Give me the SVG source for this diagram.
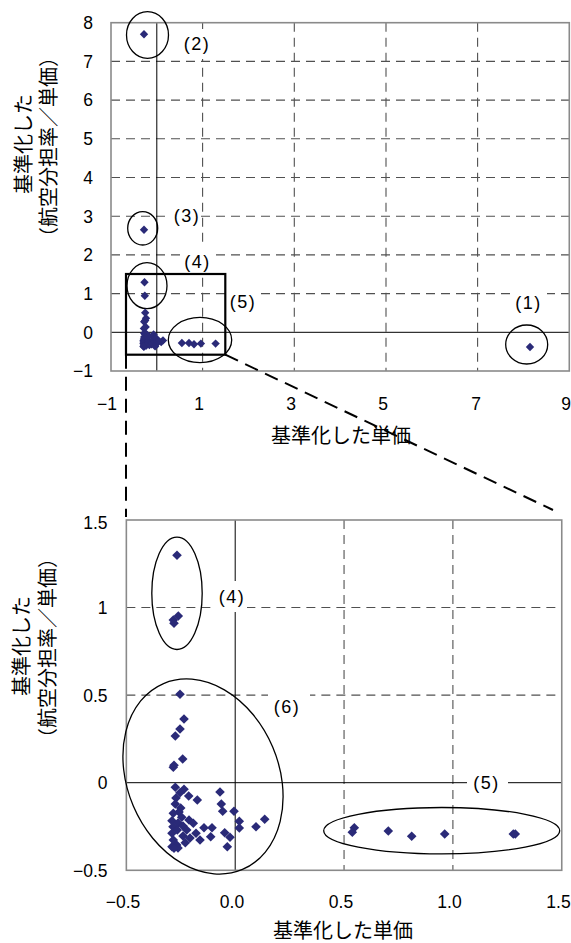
<svg xmlns="http://www.w3.org/2000/svg" xmlns:xlink="http://www.w3.org/1999/xlink" width="571" height="943" viewBox="0 0 571 943">
<style>
.bg{fill:#fff}
.frame{fill:none;stroke:#8a8a8a;stroke-width:1.6}
.grid{fill:none;stroke:#505050;stroke-width:1.1;stroke-dasharray:9,6}
.axis{fill:none;stroke:#000;stroke-width:1}
.ring{fill:none;stroke:#000;stroke-width:1.3}
.box{fill:none;stroke:#000;stroke-width:2.2}
.zoomline{fill:none;stroke:#000;stroke-width:2;stroke-dasharray:14,8}
.num{font-family:"Liberation Sans",Arial,sans-serif;font-size:17.5px;fill:#000}
.lab{font-family:"Liberation Sans",Arial,sans-serif;font-size:18px;letter-spacing:1.5px;fill:#000;text-anchor:middle}
.ttl{font-family:"Noto Sans CJK JP","Noto Sans CJK SC",sans-serif;font-size:20px;fill:#000;text-anchor:middle}
.lbg{fill:#fff;stroke:none}
.pt{fill:#2a2a78}
</style>
<defs>
<path id="dt" d="M0,-4.2 L4.2,0 L0,4.2 L-4.2,0Z"/>
<path id="db" d="M0,-4.8 L4.8,0 L0,4.8 L-4.8,0Z"/>
</defs>
<rect class="bg" x="0" y="0" width="571" height="943"/>

<g id="top-chart">
  <g id="top-grid">
    <line class="grid" x1="111" y1="293.6" x2="569.3" y2="293.6"/>
    <line class="grid" x1="111" y1="254.9" x2="569.3" y2="254.9"/>
    <line class="grid" x1="111" y1="216.2" x2="569.3" y2="216.2"/>
    <line class="grid" x1="111" y1="177.5" x2="569.3" y2="177.5"/>
    <line class="grid" x1="111" y1="138.8" x2="569.3" y2="138.8"/>
    <line class="grid" x1="111" y1="100.1" x2="569.3" y2="100.1"/>
    <line class="grid" x1="111" y1="61.4" x2="569.3" y2="61.4"/>
    <line class="grid" x1="202.6" y1="22.7" x2="202.6" y2="371"/>
    <line class="grid" x1="294.3" y1="22.7" x2="294.3" y2="371"/>
    <line class="grid" x1="386" y1="22.7" x2="386" y2="371"/>
    <line class="grid" x1="477.6" y1="22.7" x2="477.6" y2="371"/>
    <line class="axis" x1="156.8" y1="22.7" x2="156.8" y2="371"/>
    <line class="axis" x1="111" y1="332.3" x2="569.3" y2="332.3"/>
    <rect class="frame" x="111" y="22.7" width="458.3" height="348.3"/>
  </g>
  <g id="top-label-bg">
    <rect class="lbg" x="182" y="29" width="29" height="30"/>
    <rect class="lbg" x="171" y="202" width="30" height="28"/>
    <rect class="lbg" x="182" y="247" width="29" height="25"/>
    <rect class="lbg" x="228" y="288" width="29" height="28"/>
    <rect class="lbg" x="510" y="288" width="37" height="28"/>
  </g>
  <g id="top-ticks">
    <text class="num" text-anchor="end" x="93" y="29">8</text>
    <text class="num" text-anchor="end" x="93" y="67.7">7</text>
    <text class="num" text-anchor="end" x="93" y="106.4">6</text>
    <text class="num" text-anchor="end" x="93" y="145.1">5</text>
    <text class="num" text-anchor="end" x="93" y="183.8">4</text>
    <text class="num" text-anchor="end" x="93" y="222.5">3</text>
    <text class="num" text-anchor="end" x="93" y="261.2">2</text>
    <text class="num" text-anchor="end" x="93" y="299.9">1</text>
    <text class="num" text-anchor="end" x="93" y="338.6">0</text>
    <text class="num" text-anchor="end" x="93" y="377.3">−1</text>
    <text class="num" text-anchor="middle" x="107" y="410">−1</text>
    <text class="num" text-anchor="middle" x="199" y="410">1</text>
    <text class="num" text-anchor="middle" x="291" y="410">3</text>
    <text class="num" text-anchor="middle" x="383" y="410">5</text>
    <text class="num" text-anchor="middle" x="476" y="410">7</text>
    <text class="num" text-anchor="middle" x="566" y="410">9</text>
  </g>
  <text class="ttl" x="341" y="443">基準化した単価</text>
  <text class="ttl" dominant-baseline="central" transform="translate(22,144) rotate(-90)">基準化した</text>
  <text class="ttl" dominant-baseline="central" transform="translate(47,147) rotate(-90)">（航空分担率／単価）</text>
  <g id="top-groups">
    <ellipse class="ring" cx="147.5" cy="35" rx="21" ry="23.3"/>
    <ellipse class="ring" cx="142.7" cy="228.3" rx="15" ry="16.7"/>
    <ellipse class="ring" cx="147" cy="285.7" rx="20" ry="23"/>
    <ellipse class="ring" cx="200" cy="340" rx="31.7" ry="22.7"/>
    <ellipse class="ring" cx="526.7" cy="344.5" rx="21" ry="19.5"/>
    <rect class="box" x="126" y="274" width="99.3" height="80.7"/>
  </g>
  <g id="top-points" class="pt">
    <use href="#dt" x="144" y="34.3"/>
    <use href="#dt" x="144" y="229.7"/>
    <use href="#dt" x="144.5" y="282.3"/>
    <use href="#dt" x="144.8" y="295.8"/>
    <use href="#dt" x="530" y="347"/>
    <use href="#dt" x="145.2" y="312.8"/>
    <use href="#dt" x="146" y="318.2"/>
    <use href="#dt" x="145.2" y="320.4"/>
    <use href="#dt" x="144.2" y="321.8"/>
    <use href="#dt" x="145.7" y="326.9"/>
    <use href="#dt" x="143.9" y="328.4"/>
    <use href="#dt" x="144.2" y="333.3"/>
    <use href="#dt" x="146" y="333.7"/>
    <use href="#dt" x="145.2" y="334.5"/>
    <use href="#dt" x="147" y="335.2"/>
    <use href="#dt" x="148.8" y="336.1"/>
    <use href="#dt" x="153.6" y="334.4"/>
    <use href="#dt" x="153.9" y="337"/>
    <use href="#dt" x="154.2" y="338.6"/>
    <use href="#dt" x="156.5" y="338.6"/>
    <use href="#dt" x="144.2" y="337"/>
    <use href="#dt" x="145.3" y="337.9"/>
    <use href="#dt" x="143.9" y="339.1"/>
    <use href="#dt" x="145.5" y="339.9"/>
    <use href="#dt" x="143.5" y="340.7"/>
    <use href="#dt" x="148" y="341.3"/>
    <use href="#dt" x="157.7" y="340.8"/>
    <use href="#dt" x="163" y="340.4"/>
    <use href="#dt" x="161.2" y="342"/>
    <use href="#dt" x="157.7" y="342.3"/>
    <use href="#dt" x="150.2" y="342.2"/>
    <use href="#dt" x="151.9" y="342.2"/>
    <use href="#dt" x="143.7" y="342"/>
    <use href="#dt" x="144.6" y="342.8"/>
    <use href="#dt" x="143.5" y="343.5"/>
    <use href="#dt" x="146.7" y="342.8"/>
    <use href="#dt" x="148.7" y="343.5"/>
    <use href="#dt" x="154.6" y="343.4"/>
    <use href="#dt" x="151.6" y="344.2"/>
    <use href="#dt" x="155.7" y="344.4"/>
    <use href="#dt" x="149.4" y="345"/>
    <use href="#dt" x="143.9" y="345"/>
    <use href="#dt" x="144.6" y="346.1"/>
    <use href="#dt" x="143.5" y="346.4"/>
    <use href="#dt" x="146.3" y="345.6"/>
    <use href="#dt" x="155.1" y="346.4"/>
    <use href="#dt" x="143.9" y="346.8"/>
    <use href="#dt" x="181.9" y="343"/>
    <use href="#dt" x="189" y="343"/>
    <use href="#dt" x="194" y="344.2"/>
    <use href="#dt" x="200.9" y="343.6"/>
    <use href="#dt" x="215.6" y="343.6"/>
  </g>
  <g id="top-labels">
    <text class="lab" x="197" y="49.5">(2)</text>
    <text class="lab" x="187" y="222">(3)</text>
    <text class="lab" x="197.5" y="268">(4)</text>
    <text class="lab" x="243" y="308">(5)</text>
    <text class="lab" x="528.5" y="308.7">(1)</text>
  </g>
</g>

<g id="connectors">
  <line class="zoomline" x1="126" y1="354.7" x2="126" y2="517"/>
  <line class="zoomline" x1="225.3" y1="354.7" x2="553" y2="510"/>
</g>

<g id="bottom-chart">
  <g id="bottom-grid">
    <line class="grid" x1="126.35" y1="607.55" x2="561.75" y2="607.55"/>
    <line class="grid" x1="126.35" y1="695.1" x2="561.75" y2="695.1"/>
    <line class="grid" x1="344.05" y1="520" x2="344.05" y2="870.3"/>
    <line class="grid" x1="452.9" y1="520" x2="452.9" y2="870.3"/>
    <line class="axis" x1="235.2" y1="520" x2="235.2" y2="870.3"/>
    <line class="axis" x1="126.35" y1="782.7" x2="561.75" y2="782.7"/>
    <rect class="frame" x="126.35" y="520" width="435.4" height="350.3"/>
  </g>
  <g id="bottom-label-bg">
    <rect class="lbg" x="216" y="581" width="31" height="31"/>
    <rect class="lbg" x="268" y="692" width="42" height="28"/>
    <rect class="lbg" x="467" y="770" width="41" height="26"/>
  </g>
  <g id="bottom-ticks">
    <text class="num" text-anchor="end" x="107.5" y="529">1.5</text>
    <text class="num" text-anchor="end" x="107.5" y="614">1</text>
    <text class="num" text-anchor="end" x="107.5" y="701.5">0.5</text>
    <text class="num" text-anchor="end" x="107.5" y="789">0</text>
    <text class="num" text-anchor="end" x="107.5" y="876.5">−0.5</text>
    <text class="num" text-anchor="middle" x="123" y="908">−0.5</text>
    <text class="num" text-anchor="middle" x="232" y="908">0.0</text>
    <text class="num" text-anchor="middle" x="341" y="908">0.5</text>
    <text class="num" text-anchor="middle" x="449.5" y="908">1.0</text>
    <text class="num" text-anchor="middle" x="558.5" y="908">1.5</text>
  </g>
  <text class="ttl" x="343" y="938">基準化した単価</text>
  <text class="ttl" dominant-baseline="central" transform="translate(20,646) rotate(-90)">基準化した</text>
  <text class="ttl" dominant-baseline="central" transform="translate(46.7,648) rotate(-90)">（航空分担率／単価）</text>
  <g id="bottom-groups">
    <ellipse class="ring" cx="177" cy="593.3" rx="25.2" ry="56.2"/>
    <ellipse class="ring" cx="203" cy="776.5" rx="75.7" ry="101" transform="rotate(-23 203 776.5)"/>
    <ellipse class="ring" cx="441.7" cy="830.7" rx="118" ry="23.2"/>
  </g>
  <g id="bottom-points" class="pt">
    <use href="#db" x="177" y="555.3"/>
    <use href="#db" x="178.3" y="616"/>
    <use href="#db" x="173.3" y="620"/>
    <use href="#db" x="174" y="623.3"/>
    <use href="#db" x="180" y="694.3"/>
    <use href="#db" x="184" y="719"/>
    <use href="#db" x="180" y="729"/>
    <use href="#db" x="175.3" y="736"/>
    <use href="#db" x="182.7" y="759"/>
    <use href="#db" x="174" y="765.3"/>
    <use href="#db" x="173.3" y="767.3"/>
    <use href="#db" x="175.3" y="787.3"/>
    <use href="#db" x="184" y="789.3"/>
    <use href="#db" x="180" y="792.7"/>
    <use href="#db" x="188.7" y="796"/>
    <use href="#db" x="197.3" y="800"/>
    <use href="#db" x="220" y="792"/>
    <use href="#db" x="221.3" y="804"/>
    <use href="#db" x="222.7" y="811.3"/>
    <use href="#db" x="234" y="811.3"/>
    <use href="#db" x="175.3" y="804"/>
    <use href="#db" x="180.7" y="808"/>
    <use href="#db" x="176" y="798"/>
    <use href="#db" x="179" y="812"/>
    <use href="#db" x="173.3" y="813.3"/>
    <use href="#db" x="181.7" y="817.3"/>
    <use href="#db" x="172" y="820.7"/>
    <use href="#db" x="178" y="823"/>
    <use href="#db" x="189" y="820"/>
    <use href="#db" x="193.3" y="823.3"/>
    <use href="#db" x="239.3" y="821.3"/>
    <use href="#db" x="264.7" y="819.3"/>
    <use href="#db" x="256" y="826.7"/>
    <use href="#db" x="239.3" y="828"/>
    <use href="#db" x="204" y="827.7"/>
    <use href="#db" x="212" y="827.7"/>
    <use href="#db" x="173" y="826.7"/>
    <use href="#db" x="183" y="826"/>
    <use href="#db" x="177.3" y="830"/>
    <use href="#db" x="172" y="833.3"/>
    <use href="#db" x="186.7" y="830"/>
    <use href="#db" x="196" y="833.3"/>
    <use href="#db" x="183" y="836"/>
    <use href="#db" x="190" y="838"/>
    <use href="#db" x="224.7" y="832.7"/>
    <use href="#db" x="210.7" y="836.7"/>
    <use href="#db" x="230" y="837.3"/>
    <use href="#db" x="200" y="840"/>
    <use href="#db" x="173.3" y="840"/>
    <use href="#db" x="176.7" y="845"/>
    <use href="#db" x="172" y="846.7"/>
    <use href="#db" x="185.3" y="842.7"/>
    <use href="#db" x="178" y="848"/>
    <use href="#db" x="227.3" y="846.7"/>
    <use href="#db" x="174" y="848.3"/>
    <use href="#db" x="354.3" y="827.7"/>
    <use href="#db" x="352.3" y="832.3"/>
    <use href="#db" x="388.3" y="831"/>
    <use href="#db" x="411.7" y="836.3"/>
    <use href="#db" x="444.7" y="834"/>
    <use href="#db" x="513.3" y="834"/>
    <use href="#db" x="515.3" y="834"/>
  </g>
  <g id="bottom-labels">
    <text class="lab" x="232" y="603">(4)</text>
    <text class="lab" x="287" y="713">(6)</text>
    <text class="lab" x="486.5" y="788.5">(5)</text>
  </g>
</g>
</svg>
